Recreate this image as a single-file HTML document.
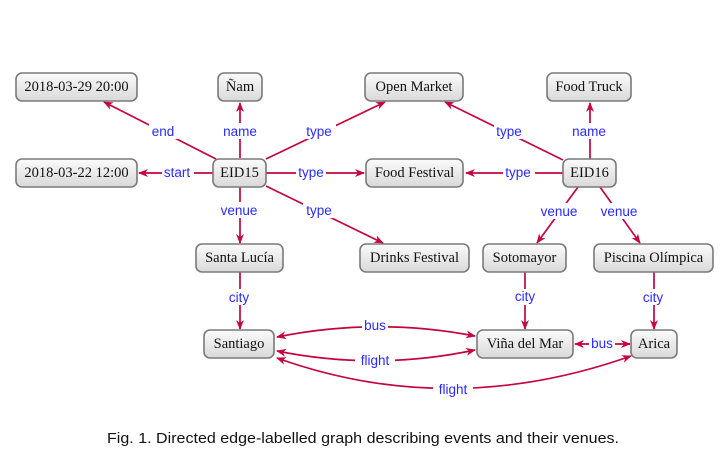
<!DOCTYPE html>
<html><head><meta charset="utf-8"><style>
html,body{margin:0;padding:0;background:#fff;}
svg{display:block;}
.n rect{fill:url(#g);stroke:#7a7a7a;stroke-width:1.6;}
.n text{font-family:"Liberation Serif",serif;font-size:14.5px;fill:#111;text-anchor:middle;}
.e{stroke:#c4053f;stroke-width:1.7;fill:none;marker-end:url(#a);}
.e2{marker-start:url(#as);}
.l{font-family:"Liberation Sans",sans-serif;font-size:13.5px;fill:#2a2aff;text-anchor:middle;}
.lb{fill:#fff;}
</style></head><body>
<svg width="724" height="466" viewBox="0 0 724 466" xmlns="http://www.w3.org/2000/svg">
<defs>
<linearGradient id="g" x1="0" y1="0" x2="0" y2="1"><stop offset="0" stop-color="#fbfbfb"/><stop offset="1" stop-color="#d9d9d9"/></linearGradient>
<marker id="a" markerWidth="10" markerHeight="8" refX="9" refY="4" orient="auto" markerUnits="userSpaceOnUse"><path d="M0,0 L10,4 L0,8 L3,4 z" fill="#c4053f"/></marker>
<marker id="as" markerWidth="10" markerHeight="8" refX="1" refY="4" orient="auto" markerUnits="userSpaceOnUse"><path d="M10,0 L0,4 L10,8 L7,4 z" fill="#c4053f"/></marker>
</defs>

<line class="e" x1="216" y1="159" x2="104" y2="102"/>
<line class="e" x1="240" y1="158" x2="240" y2="103"/>
<line class="e" x1="266" y1="159" x2="385" y2="102"/>
<line class="e" x1="213" y1="173" x2="139" y2="173"/>
<line class="e" x1="266" y1="173" x2="364" y2="173"/>
<line class="e" x1="266" y1="186" x2="383" y2="243"/>
<line class="e" x1="240" y1="187" x2="240" y2="243"/>
<line class="e" x1="240" y1="272" x2="240" y2="329"/>
<line class="e" x1="563" y1="160" x2="445" y2="102"/>
<line class="e" x1="590" y1="159" x2="590" y2="103"/>
<line class="e" x1="563" y1="173" x2="466" y2="173"/>
<line class="e" x1="578" y1="187" x2="537" y2="243"/>
<line class="e" x1="600" y1="187" x2="640" y2="243"/>
<line class="e" x1="525" y1="272" x2="525" y2="329"/>
<line class="e" x1="654" y1="272" x2="654" y2="329"/>
<path class="e e2" d="M277,337 Q376,317 475,336"/>
<path class="e e2" d="M277,351 Q376,371 475,350"/>
<path class="e e2" d="M277,358 Q450,420 631,356"/>
<line class="e e2" x1="575" y1="344" x2="630" y2="344"/>

<g>
<rect class="lb" x="149" y="123" width="30" height="16"/><text class="l" x="163" y="136">end</text>
<rect class="lb" x="220" y="123" width="40" height="16"/><text class="l" x="240" y="136">name</text>
<rect class="lb" x="304" y="123" width="32" height="16"/><text class="l" x="319" y="136">type</text>
<rect class="lb" x="162" y="165" width="32" height="16"/><text class="l" x="177" y="177">start</text>
<rect class="lb" x="296" y="165" width="30" height="16"/><text class="l" x="311" y="177">type</text>
<rect class="lb" x="303" y="202" width="32" height="16"/><text class="l" x="319" y="215">type</text>
<rect class="lb" x="218" y="202" width="44" height="16"/><text class="l" x="239" y="215">venue</text>
<rect class="lb" x="226" y="289" width="28" height="16"/><text class="l" x="239" y="302">city</text>
<rect class="lb" x="494" y="123" width="32" height="16"/><text class="l" x="509" y="136">type</text>
<rect class="lb" x="570" y="123" width="40" height="16"/><text class="l" x="589" y="136">name</text>
<rect class="lb" x="503" y="165" width="32" height="16"/><text class="l" x="518" y="177">type</text>
<rect class="lb" x="538" y="203" width="42" height="16"/><text class="l" x="559" y="216">venue</text>
<rect class="lb" x="598" y="203" width="42" height="16"/><text class="l" x="619" y="216">venue</text>
<rect class="lb" x="511" y="289" width="28" height="16"/><text class="l" x="525" y="301">city</text>
<rect class="lb" x="640" y="289" width="28" height="16"/><text class="l" x="653" y="302">city</text>
<rect class="lb" x="362" y="318" width="26" height="16"/><text class="l" x="375" y="330">bus</text>
<rect class="lb" x="355" y="352" width="40" height="16"/><text class="l" x="375" y="365">flight</text>
<rect class="lb" x="433" y="382" width="40" height="16"/><text class="l" x="453" y="394">flight</text>
<rect class="lb" x="589" y="336" width="26" height="16"/><text class="l" x="602" y="348">bus</text>
</g>

<g class="n">
<rect x="16" y="73" width="121" height="28" rx="6"/><text x="76.5" y="91">2018-03-29 20:00</text>
<rect x="218" y="73" width="44" height="28" rx="6"/><text x="240" y="91">Ñam</text>
<rect x="365" y="73" width="98" height="28" rx="6"/><text x="414" y="91">Open Market</text>
<rect x="547" y="73" width="84" height="28" rx="6"/><text x="589" y="91">Food Truck</text>
<rect x="16" y="159" width="121" height="28" rx="6"/><text x="76.5" y="177">2018-03-22 12:00</text>
<rect x="213" y="159" width="53" height="28" rx="6"/><text x="239.5" y="177">EID15</text>
<rect x="366" y="159" width="97" height="28" rx="6"/><text x="414.5" y="177">Food Festival</text>
<rect x="563" y="159" width="53" height="28" rx="6"/><text x="589.5" y="177">EID16</text>
<rect x="196" y="244" width="87" height="28" rx="6"/><text x="239.5" y="262">Santa Lucía</text>
<rect x="360" y="244" width="109" height="28" rx="6"/><text x="414.5" y="262">Drinks Festival</text>
<rect x="483" y="244" width="83" height="28" rx="6"/><text x="524.5" y="262">Sotomayor</text>
<rect x="594" y="244" width="119" height="28" rx="6"/><text x="653.5" y="262">Piscina Olímpica</text>
<rect x="204" y="330" width="70" height="28" rx="6"/><text x="239" y="348">Santiago</text>
<rect x="477" y="330" width="96" height="28" rx="6"/><text x="525" y="348">Viña del Mar</text>
<rect x="631" y="330" width="46" height="28" rx="6"/><text x="654" y="348">Arica</text>
</g>

<text x="363" y="443" font-family="Liberation Sans, sans-serif" font-size="15" text-anchor="middle" fill="#111" textLength="512" lengthAdjust="spacingAndGlyphs">Fig. 1.  Directed edge-labelled graph describing events and their venues.</text>
</svg>
</body></html>
